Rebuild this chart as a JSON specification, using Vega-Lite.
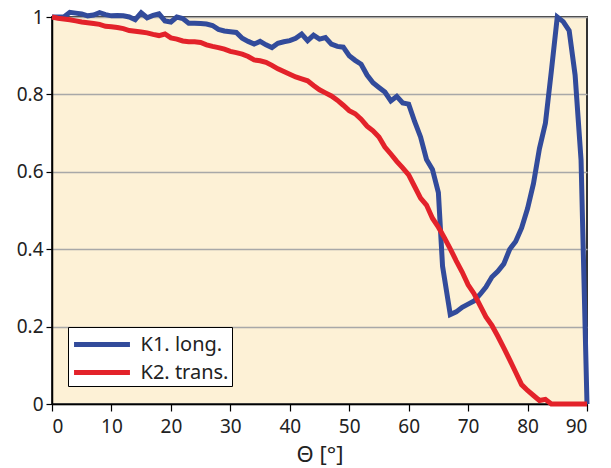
{
  "$schema": "https://vega.github.io/schema/vega-lite/v6.json",
  "width": 535,
  "height": 387,
  "autosize": {"type": "none"},
  "padding": {"left": 52, "top": 17, "right": 24, "bottom": 64},
  "background": "white",
  "config": {
    "font": "Noto Sans",
    "view": {"fill": "#FDF1D6", "stroke": "#333333", "strokeWidth": 2},
    "axis": {"labelFont": "Noto Sans", "titleFont": "Noto Sans", "labelColor": "#222222", "titleColor": "#222222", "domainColor": "#000000", "tickColor": "#000000", "domainWidth": 1.5, "tickWidth": 1.2}
  },
  "data": {
    "values": [
      {"theta": 0, "k": 1.0, "series": "K1. long."},
      {"theta": 1, "k": 1.0, "series": "K1. long."},
      {"theta": 2, "k": 1.0, "series": "K1. long."},
      {"theta": 3, "k": 1.012, "series": "K1. long."},
      {"theta": 4, "k": 1.01, "series": "K1. long."},
      {"theta": 5, "k": 1.008, "series": "K1. long."},
      {"theta": 6, "k": 1.003, "series": "K1. long."},
      {"theta": 7, "k": 1.005, "series": "K1. long."},
      {"theta": 8, "k": 1.011, "series": "K1. long."},
      {"theta": 9, "k": 1.006, "series": "K1. long."},
      {"theta": 10, "k": 1.003, "series": "K1. long."},
      {"theta": 11, "k": 1.004, "series": "K1. long."},
      {"theta": 12, "k": 1.003, "series": "K1. long."},
      {"theta": 13, "k": 1.0, "series": "K1. long."},
      {"theta": 14, "k": 0.993, "series": "K1. long."},
      {"theta": 15, "k": 1.011, "series": "K1. long."},
      {"theta": 16, "k": 0.998, "series": "K1. long."},
      {"theta": 17, "k": 1.004, "series": "K1. long."},
      {"theta": 18, "k": 1.008, "series": "K1. long."},
      {"theta": 19, "k": 0.99, "series": "K1. long."},
      {"theta": 20, "k": 0.987, "series": "K1. long."},
      {"theta": 21, "k": 1.0, "series": "K1. long."},
      {"theta": 22, "k": 0.996, "series": "K1. long."},
      {"theta": 23, "k": 0.984, "series": "K1. long."},
      {"theta": 24, "k": 0.984, "series": "K1. long."},
      {"theta": 25, "k": 0.983, "series": "K1. long."},
      {"theta": 26, "k": 0.982, "series": "K1. long."},
      {"theta": 27, "k": 0.978, "series": "K1. long."},
      {"theta": 28, "k": 0.968, "series": "K1. long."},
      {"theta": 29, "k": 0.964, "series": "K1. long."},
      {"theta": 30, "k": 0.962, "series": "K1. long."},
      {"theta": 31, "k": 0.96, "series": "K1. long."},
      {"theta": 32, "k": 0.945, "series": "K1. long."},
      {"theta": 33, "k": 0.937, "series": "K1. long."},
      {"theta": 34, "k": 0.93, "series": "K1. long."},
      {"theta": 35, "k": 0.937, "series": "K1. long."},
      {"theta": 36, "k": 0.928, "series": "K1. long."},
      {"theta": 37, "k": 0.921, "series": "K1. long."},
      {"theta": 38, "k": 0.932, "series": "K1. long."},
      {"theta": 39, "k": 0.936, "series": "K1. long."},
      {"theta": 40, "k": 0.939, "series": "K1. long."},
      {"theta": 41, "k": 0.945, "series": "K1. long."},
      {"theta": 42, "k": 0.956, "series": "K1. long."},
      {"theta": 43, "k": 0.939, "series": "K1. long."},
      {"theta": 44, "k": 0.953, "series": "K1. long."},
      {"theta": 45, "k": 0.943, "series": "K1. long."},
      {"theta": 46, "k": 0.947, "series": "K1. long."},
      {"theta": 47, "k": 0.93, "series": "K1. long."},
      {"theta": 48, "k": 0.924, "series": "K1. long."},
      {"theta": 49, "k": 0.922, "series": "K1. long."},
      {"theta": 50, "k": 0.9, "series": "K1. long."},
      {"theta": 51, "k": 0.888, "series": "K1. long."},
      {"theta": 52, "k": 0.878, "series": "K1. long."},
      {"theta": 53, "k": 0.85, "series": "K1. long."},
      {"theta": 54, "k": 0.83, "series": "K1. long."},
      {"theta": 55, "k": 0.818, "series": "K1. long."},
      {"theta": 56, "k": 0.806, "series": "K1. long."},
      {"theta": 57, "k": 0.783, "series": "K1. long."},
      {"theta": 58, "k": 0.795, "series": "K1. long."},
      {"theta": 59, "k": 0.778, "series": "K1. long."},
      {"theta": 60, "k": 0.775, "series": "K1. long."},
      {"theta": 61, "k": 0.73, "series": "K1. long."},
      {"theta": 62, "k": 0.69, "series": "K1. long."},
      {"theta": 63, "k": 0.632, "series": "K1. long."},
      {"theta": 64, "k": 0.606, "series": "K1. long."},
      {"theta": 65, "k": 0.546, "series": "K1. long."},
      {"theta": 65.7, "k": 0.356, "series": "K1. long."},
      {"theta": 67, "k": 0.231, "series": "K1. long."},
      {"theta": 68, "k": 0.238, "series": "K1. long."},
      {"theta": 69, "k": 0.25, "series": "K1. long."},
      {"theta": 70, "k": 0.258, "series": "K1. long."},
      {"theta": 71, "k": 0.266, "series": "K1. long."},
      {"theta": 72, "k": 0.283, "series": "K1. long."},
      {"theta": 73, "k": 0.302, "series": "K1. long."},
      {"theta": 74, "k": 0.328, "series": "K1. long."},
      {"theta": 75, "k": 0.343, "series": "K1. long."},
      {"theta": 76, "k": 0.362, "series": "K1. long."},
      {"theta": 77, "k": 0.4, "series": "K1. long."},
      {"theta": 78, "k": 0.42, "series": "K1. long."},
      {"theta": 79, "k": 0.455, "series": "K1. long."},
      {"theta": 80, "k": 0.505, "series": "K1. long."},
      {"theta": 81, "k": 0.57, "series": "K1. long."},
      {"theta": 82, "k": 0.66, "series": "K1. long."},
      {"theta": 83, "k": 0.725, "series": "K1. long."},
      {"theta": 84, "k": 0.86, "series": "K1. long."},
      {"theta": 85, "k": 1.0, "series": "K1. long."},
      {"theta": 86, "k": 0.988, "series": "K1. long."},
      {"theta": 87, "k": 0.965, "series": "K1. long."},
      {"theta": 88, "k": 0.85, "series": "K1. long."},
      {"theta": 89, "k": 0.63, "series": "K1. long."},
      {"theta": 90, "k": 0.0, "series": "K1. long."},
      {"theta": 0, "k": 1.0, "series": "K2. trans."},
      {"theta": 1, "k": 0.997, "series": "K2. trans."},
      {"theta": 2, "k": 0.995, "series": "K2. trans."},
      {"theta": 3, "k": 0.993, "series": "K2. trans."},
      {"theta": 4, "k": 0.99, "series": "K2. trans."},
      {"theta": 5, "k": 0.987, "series": "K2. trans."},
      {"theta": 6, "k": 0.985, "series": "K2. trans."},
      {"theta": 7, "k": 0.983, "series": "K2. trans."},
      {"theta": 8, "k": 0.981, "series": "K2. trans."},
      {"theta": 9, "k": 0.976, "series": "K2. trans."},
      {"theta": 10, "k": 0.975, "series": "K2. trans."},
      {"theta": 11, "k": 0.973, "series": "K2. trans."},
      {"theta": 12, "k": 0.97, "series": "K2. trans."},
      {"theta": 13, "k": 0.965, "series": "K2. trans."},
      {"theta": 14, "k": 0.963, "series": "K2. trans."},
      {"theta": 15, "k": 0.961, "series": "K2. trans."},
      {"theta": 16, "k": 0.959, "series": "K2. trans."},
      {"theta": 17, "k": 0.955, "series": "K2. trans."},
      {"theta": 18, "k": 0.952, "series": "K2. trans."},
      {"theta": 19, "k": 0.956, "series": "K2. trans."},
      {"theta": 20, "k": 0.946, "series": "K2. trans."},
      {"theta": 21, "k": 0.943, "series": "K2. trans."},
      {"theta": 22, "k": 0.938, "series": "K2. trans."},
      {"theta": 23, "k": 0.936, "series": "K2. trans."},
      {"theta": 24, "k": 0.936, "series": "K2. trans."},
      {"theta": 25, "k": 0.934, "series": "K2. trans."},
      {"theta": 26, "k": 0.928, "series": "K2. trans."},
      {"theta": 27, "k": 0.924, "series": "K2. trans."},
      {"theta": 28, "k": 0.921, "series": "K2. trans."},
      {"theta": 29, "k": 0.917, "series": "K2. trans."},
      {"theta": 30, "k": 0.911, "series": "K2. trans."},
      {"theta": 31, "k": 0.908, "series": "K2. trans."},
      {"theta": 32, "k": 0.904, "series": "K2. trans."},
      {"theta": 33, "k": 0.898, "series": "K2. trans."},
      {"theta": 34, "k": 0.889, "series": "K2. trans."},
      {"theta": 35, "k": 0.887, "series": "K2. trans."},
      {"theta": 36, "k": 0.883, "series": "K2. trans."},
      {"theta": 37, "k": 0.875, "series": "K2. trans."},
      {"theta": 38, "k": 0.866, "series": "K2. trans."},
      {"theta": 39, "k": 0.859, "series": "K2. trans."},
      {"theta": 40, "k": 0.852, "series": "K2. trans."},
      {"theta": 41, "k": 0.845, "series": "K2. trans."},
      {"theta": 42, "k": 0.84, "series": "K2. trans."},
      {"theta": 43, "k": 0.835, "series": "K2. trans."},
      {"theta": 44, "k": 0.823, "series": "K2. trans."},
      {"theta": 45, "k": 0.812, "series": "K2. trans."},
      {"theta": 46, "k": 0.804, "series": "K2. trans."},
      {"theta": 47, "k": 0.796, "series": "K2. trans."},
      {"theta": 48, "k": 0.785, "series": "K2. trans."},
      {"theta": 49, "k": 0.772, "series": "K2. trans."},
      {"theta": 50, "k": 0.758, "series": "K2. trans."},
      {"theta": 51, "k": 0.75, "series": "K2. trans."},
      {"theta": 52, "k": 0.736, "series": "K2. trans."},
      {"theta": 53, "k": 0.718, "series": "K2. trans."},
      {"theta": 54, "k": 0.706, "series": "K2. trans."},
      {"theta": 55, "k": 0.69, "series": "K2. trans."},
      {"theta": 56, "k": 0.664, "series": "K2. trans."},
      {"theta": 57, "k": 0.646, "series": "K2. trans."},
      {"theta": 58, "k": 0.627, "series": "K2. trans."},
      {"theta": 59, "k": 0.61, "series": "K2. trans."},
      {"theta": 60, "k": 0.592, "series": "K2. trans."},
      {"theta": 61, "k": 0.562, "series": "K2. trans."},
      {"theta": 62, "k": 0.532, "series": "K2. trans."},
      {"theta": 63, "k": 0.514, "series": "K2. trans."},
      {"theta": 64, "k": 0.48, "series": "K2. trans."},
      {"theta": 65, "k": 0.457, "series": "K2. trans."},
      {"theta": 66, "k": 0.43, "series": "K2. trans."},
      {"theta": 67, "k": 0.401, "series": "K2. trans."},
      {"theta": 68, "k": 0.37, "series": "K2. trans."},
      {"theta": 69, "k": 0.341, "series": "K2. trans."},
      {"theta": 70, "k": 0.308, "series": "K2. trans."},
      {"theta": 71, "k": 0.285, "series": "K2. trans."},
      {"theta": 72, "k": 0.255, "series": "K2. trans."},
      {"theta": 73, "k": 0.225, "series": "K2. trans."},
      {"theta": 74, "k": 0.203, "series": "K2. trans."},
      {"theta": 75, "k": 0.175, "series": "K2. trans."},
      {"theta": 76, "k": 0.145, "series": "K2. trans."},
      {"theta": 77, "k": 0.114, "series": "K2. trans."},
      {"theta": 78, "k": 0.082, "series": "K2. trans."},
      {"theta": 79, "k": 0.05, "series": "K2. trans."},
      {"theta": 80, "k": 0.035, "series": "K2. trans."},
      {"theta": 81, "k": 0.022, "series": "K2. trans."},
      {"theta": 82, "k": 0.009, "series": "K2. trans."},
      {"theta": 83, "k": 0.012, "series": "K2. trans."},
      {"theta": 84, "k": 0.0, "series": "K2. trans."},
      {"theta": 85, "k": 0.0, "series": "K2. trans."},
      {"theta": 86, "k": 0.0, "series": "K2. trans."},
      {"theta": 87, "k": 0.0, "series": "K2. trans."},
      {"theta": 88, "k": 0.0, "series": "K2. trans."},
      {"theta": 89, "k": 0.0, "series": "K2. trans."},
      {"theta": 90, "k": 0.0, "series": "K2. trans."}
    ]
  },
  "mark": {"type": "line", "strokeWidth": 5, "strokeJoin": "miter", "clip": false},
  "encoding": {
    "x": {
      "field": "theta", "type": "quantitative",
      "scale": {"domain": [0, 90], "nice": false},
      "axis": {"title": "Θ [°]", "values": [0, 10, 20, 30, 40, 50, 60, 70, 80, 90], "grid": false, "tickSize": 7, "labelFontSize": 19, "labelPadding": 6, "titleFontSize": 22, "titleFontWeight": "normal", "titlePadding": 8}
    },
    "y": {
      "field": "k", "type": "quantitative",
      "scale": {"domain": [0, 1], "nice": false},
      "axis": {"title": null, "values": [0, 0.2, 0.4, 0.6, 0.8, 1], "format": "~g", "grid": true, "gridColor": "#A8A8A8", "gridWidth": 1.5, "tickSize": 6, "labelFontSize": 19, "labelPadding": 3}
    },
    "color": {
      "field": "series", "type": "nominal",
      "scale": {"domain": ["K1. long.", "K2. trans."], "range": ["#324B9B", "#E3222A"]},
      "legend": {
        "title": null, "orient": "none", "legendX": 16, "legendY": 310,
        "fillColor": "white", "strokeColor": "#000000", "padding": 3,
        "symbolType": "M-2.33,0H2.33", "symbolSize": 576, "symbolStrokeWidth": 5,
        "symbolOffset": 16.5, "labelOffset": 24, "labelFontSize": 20, "labelColor": "#222222",
        "rowPadding": 3
      }
    }
  }
}
